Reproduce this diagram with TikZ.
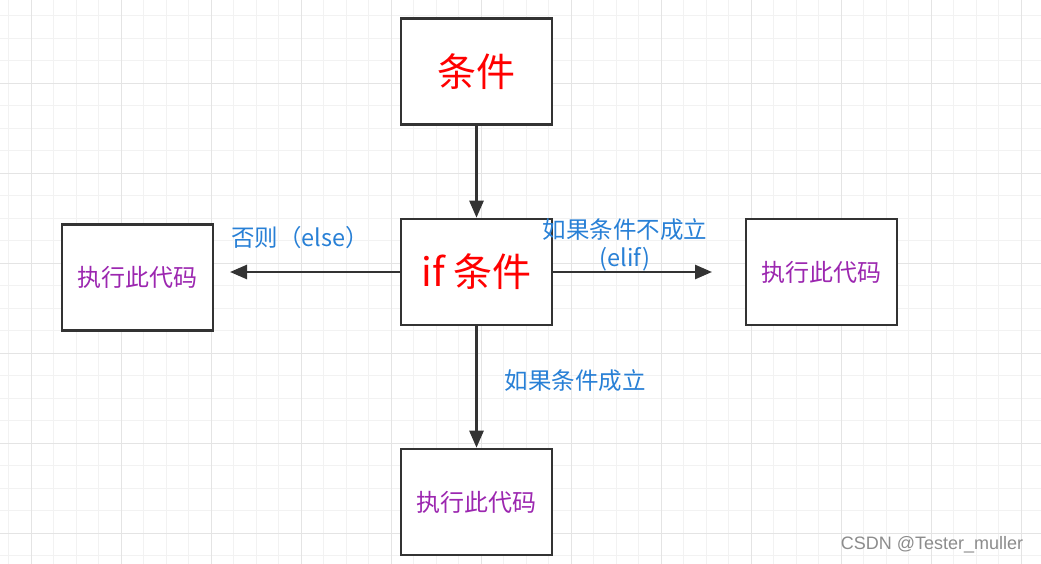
\documentclass[tikz,border=0pt]{standalone}
\usepackage{fontspec}
\setmainfont{Noto Sans CJK SC}
\newfontfamily\markfont{Liberation Sans}
\usetikzlibrary{arrows.meta,positioning}
\definecolor{condred}{RGB}{255,0,0}
\definecolor{labelblue}{RGB}{40,128,214}
\definecolor{codepurple}{RGB}{156,39,176}
\definecolor{boxgray}{RGB}{51,51,51}
\definecolor{minorgrid}{RGB}{242,242,242}
\definecolor{majorgrid}{RGB}{228,228,228}
\tikzset
{
    flowbox/.style = {rectangle, draw=boxgray, line width=2.6pt, fill=white, align=center, minimum width=151pt, minimum height=106pt, inner sep=0pt},
    condtext/.style = {text=condred, font=\fontsize{39}{42}\selectfont},
    codetext/.style = {text=codepurple, font=\fontsize{24}{28}\selectfont},
    bluelabel/.style = {text=labelblue, font=\fontsize{23.5}{28}\selectfont, align=center, inner sep=0pt},
    flowarrow/.style = {draw=boxgray, line width=2.6pt, -{Triangle[length=17pt,width=14pt]}}
}

\begin{document}
\begin{tikzpicture}[x=1pt, y=-1pt]
	\fill[white] (0,0) rectangle (1041,564);
	\useasboundingbox (0,0) rectangle (1041,564);
	% grid
	\foreach \gx in {0,...,46}
		\draw[minorgrid, line width=0.8pt] (8.5+22.5*\gx,0) -- (8.5+22.5*\gx,564);
	\foreach \gy in {0,...,25}
		\draw[minorgrid, line width=0.8pt] (0,-6.7+22.5*\gy) -- (1041,-6.7+22.5*\gy);
	\foreach \gx in {0,...,11}
		\draw[majorgrid, line width=1pt] (31+90*\gx,0) -- (31+90*\gx,564);
	\foreach \gy in {0,...,6}
		\draw[majorgrid, line width=1pt] (0,-6.7+90*\gy) -- (1041,-6.7+90*\gy);

	% boxes
	\node[flowbox, condtext] (cond) at (476.5,71.5) {条件};
	\node[flowbox, condtext] (ifcond) at (476.5,272) {if 条件};
	\node[flowbox, codetext] (elsecode) at (137.5,277.5) {执行此代码};
	\node[flowbox, codetext] (elifcode) at (821.5,272) {执行此代码};
	\node[flowbox, codetext] (ifcode) at (476.5,502) {执行此代码};
	\coordinate (elseend) at (230,272);
	\coordinate (elifend) at (712,272);

	% arrows
	\draw[flowarrow] (cond) -- (ifcond);
	\draw[flowarrow] (ifcond.west) -- (elseend);
	\draw[flowarrow] (ifcond.east) -- (elifend);
	\draw[flowarrow] (ifcond) -- (ifcode);

	% labels
	\node[bluelabel] (elselabel) at (300,238) {否则（else）};
	\node[bluelabel] (eliflabel) at (625,245) {如果条件不成立\\(elif)};
	\node[bluelabel] (iflabel) at (575,381) {如果条件成立};
	\node[text=black!45, font=\markfont\fontsize{18}{20}\selectfont] (mark) at (932,545) {CSDN @Tester\_muller};
\end{tikzpicture}
\end{document}
